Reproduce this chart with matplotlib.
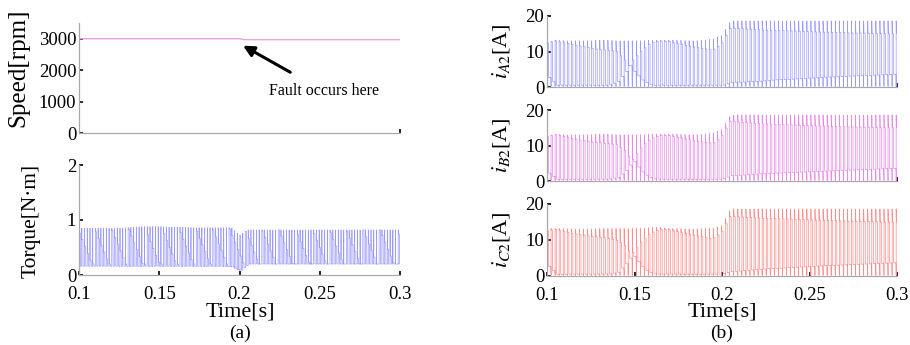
import numpy as np
import matplotlib
matplotlib.use('Agg')
import matplotlib.pyplot as plt

plt.rcParams['font.family'] = ['Liberation Serif', 'DejaVu Serif']
plt.rcParams['mathtext.fontset'] = 'stix'
plt.rcParams['path.simplify'] = False

# ---------------- data ----------------
t_knots = [0.100, 0.105, 0.110, 0.115, 0.120, 0.125, 0.130, 0.135, 0.140, 0.145,
           0.150, 0.155, 0.160, 0.165, 0.170, 0.175, 0.180, 0.185, 0.190, 0.195,
           0.200, 0.205, 0.210, 0.215, 0.220, 0.225, 0.230, 0.235, 0.240, 0.245,
           0.250, 0.255, 0.260, 0.265, 0.270, 0.275, 0.280, 0.285, 0.290, 0.295, 0.300]

speed_t = [0.100, 0.200, 0.203, 0.300]
speed_v = [3000, 3000, 2970, 2970]

torque_top = [0.85, 0.85, 0.85, 0.85, 0.85, 0.85, 0.86, 0.87, 0.88, 0.88,
              0.88, 0.87, 0.87, 0.87, 0.86, 0.86, 0.86, 0.86, 0.86, 0.86,
              0.72, 0.82, 0.82, 0.82, 0.82, 0.82, 0.82, 0.82, 0.82, 0.82,
              0.82, 0.82, 0.82, 0.82, 0.82, 0.82, 0.82, 0.82, 0.82, 0.82, 0.82]
torque_bot = [0.16, 0.16, 0.16, 0.16, 0.16, 0.16, 0.16, 0.16, 0.16, 0.16,
              0.16, 0.16, 0.16, 0.16, 0.16, 0.16, 0.16, 0.16, 0.16, 0.15,
              0.08, 0.20, 0.20, 0.20, 0.20, 0.20, 0.20, 0.20, 0.20, 0.20,
              0.20, 0.20, 0.20, 0.20, 0.20, 0.20, 0.20, 0.20, 0.20, 0.20, 0.20]
torque_ramp_start = [0.0995, 0.1100, 0.1205, 0.1310, 0.1415, 0.1520, 0.1625, 0.1730,
                     0.1835, 0.1940, 0.2035, 0.2140, 0.2245, 0.2350, 0.2455, 0.2560,
                     0.2665, 0.2770, 0.2875, 0.2980]
torque_ramp_hi = 0.84
torque_ramp_lo = 0.20
torque_ramp_len = 0.0088

iA2_peak = [12.5, 13.2, 13.0, 13.0, 13.0, 13.0, 13.2, 13.2, 13.0, 13.0,
            13.0, 13.0, 13.2, 13.2, 13.2, 13.2, 13.0, 13.0, 13.2, 13.5,
            14.5, 18.6, 18.6, 18.6, 18.6, 18.6, 18.6, 18.6, 18.6, 18.6,
            18.6, 18.6, 18.6, 18.6, 18.6, 18.6, 18.6, 18.6, 18.6, 18.6, 18.6]
iA2_tr1 = [12.3, 13.0, 12.5, 12.0, 11.5, 11.0, 10.5, 10.4, 10.0, 7.5,
           4.0, 1.5, 0.5, 0.5, 0.5, 0.5, 0.5, 0.5, 0.5, 0.5,
           0.5, 1.2, 1.3, 1.5, 1.6, 1.8, 2.0, 2.1, 2.2, 2.4,
           2.5, 2.6, 2.8, 2.9, 3.0, 3.1, 3.2, 3.3, 3.4, 3.5, 3.6]
iA2_tr2 = [3.0, 0.5, 0.5, 0.5, 0.5, 0.5, 0.5, 0.5, 1.5, 4.5,
           8.0, 10.5, 12.5, 13.0, 12.8, 12.2, 11.7, 11.2, 10.8, 10.4,
           12.0, 16.5, 16.5, 16.3, 16.2, 16.0, 16.0, 15.9, 15.8, 15.7,
           15.6, 15.5, 15.5, 15.4, 15.3, 15.2, 15.2, 15.1, 15.0, 15.0, 15.0]

iB2_peak = [12.8, 13.2, 13.0, 13.0, 13.0, 13.0, 13.2, 13.2, 13.0, 13.0,
            13.0, 13.0, 13.2, 13.2, 13.2, 13.2, 13.0, 13.0, 13.2, 13.5,
            14.5, 18.6, 18.6, 18.6, 18.6, 18.6, 18.6, 18.6, 18.6, 18.6,
            18.6, 18.6, 18.6, 18.6, 18.6, 18.6, 18.6, 18.6, 18.6, 18.6, 18.6]
iB2_tr1 = [12.5, 13.0, 12.6, 12.0, 11.5, 11.0, 10.8, 10.5, 10.3, 8.5,
           5.0, 2.0, 0.6, 0.5, 0.5, 0.5, 0.5, 0.5, 0.5, 0.5,
           0.6, 1.5, 1.6, 1.8, 2.0, 2.1, 2.2, 2.3, 2.4, 2.5,
           2.6, 2.7, 2.8, 2.9, 3.0, 3.1, 3.2, 3.3, 3.4, 3.5, 3.6]
iB2_tr2 = [2.5, 0.5, 0.5, 0.5, 0.5, 0.5, 0.5, 0.5, 1.0, 3.0,
           6.5, 10.0, 12.0, 12.8, 12.8, 12.3, 11.8, 11.3, 11.0, 10.6,
           12.5, 16.8, 16.6, 16.4, 16.2, 16.1, 16.0, 15.9, 15.8, 15.7,
           15.6, 15.5, 15.5, 15.4, 15.3, 15.2, 15.2, 15.1, 15.0, 15.0, 15.0]

iC2_peak = [13.2, 13.2, 13.2, 13.0, 13.0, 13.0, 13.2, 13.2, 13.2, 13.2,
            13.2, 13.2, 13.5, 13.5, 13.2, 13.2, 13.0, 13.0, 13.2, 13.2,
            14.0, 18.6, 18.6, 18.6, 18.6, 18.6, 18.6, 18.6, 18.6, 18.6,
            18.6, 18.6, 18.6, 18.6, 18.6, 18.6, 18.6, 18.6, 18.6, 18.6, 18.6]
iC2_tr1 = [12.5, 13.0, 12.4, 11.8, 11.5, 11.0, 10.8, 10.5, 10.0, 8.5,
           5.0, 2.0, 0.6, 0.5, 0.5, 0.5, 0.5, 0.5, 0.5, 0.5,
           0.6, 1.2, 1.4, 1.6, 1.8, 2.0, 2.1, 2.2, 2.4, 2.5,
           2.6, 2.8, 2.9, 3.0, 3.1, 3.2, 3.3, 3.4, 3.5, 3.6, 3.7]
iC2_tr2 = [3.0, 0.5, 0.5, 0.5, 0.5, 0.5, 0.5, 0.5, 1.0, 3.5,
           7.0, 10.0, 12.0, 13.0, 12.8, 12.3, 11.8, 11.3, 10.8, 10.4,
           12.0, 16.5, 16.4, 16.3, 16.2, 16.0, 16.0, 15.9, 15.8, 15.7,
           15.6, 15.5, 15.5, 15.4, 15.3, 15.2, 15.2, 15.1, 15.0, 15.0, 15.0]

time_ticks = [0.1, 0.15, 0.2, 0.25, 0.3]
time_ticklabels = ['0.1', '0.15', '0.2', '0.25', '0.3']

# switching periods (rendering of the chopped waveforms)
P_CUR = 0.00232
P_TQ = 0.00170

# ---------------- helpers ----------------
W, H = 910, 345


def ax_box(l, r, top, bot):
    return [l / W, 1 - bot / H, (r - l) / W, (bot - top) / H]


def chopped_current(peak, tr1, tr2):
    starts = np.arange(t_knots[0], t_knots[-1], P_CUR)
    xs, ys = [], []
    for t in starts:
        pk = np.interp(t, t_knots, peak)
        a = np.interp(t + 0.3 * P_CUR, t_knots, tr1)
        b = np.interp(t + 0.3 * P_CUR, t_knots, tr2)
        hi, lo = max(a, b), min(a, b)
        xs += [t, t, t + 0.06 * P_CUR, t + 0.38 * P_CUR, t + 0.38 * P_CUR,
               t + 0.96 * P_CUR, t + P_CUR]
        ys += [0.15, pk, hi, hi, lo, lo, 0.15]
    return np.array(xs), np.array(ys)


def ramp_value(t):
    idx = np.searchsorted(torque_ramp_start, t, side='right') - 1
    idx = max(idx, 0)
    frac = (t - torque_ramp_start[idx]) / torque_ramp_len
    frac = min(max(frac, 0.0), 1.0)
    return torque_ramp_hi + (torque_ramp_lo - torque_ramp_hi) * frac


def chopped_torque():
    starts = np.arange(t_knots[0], t_knots[-1], P_TQ)
    xs, ys = [], []
    for t in starts:
        top = np.interp(t, t_knots, torque_top)
        bot = np.interp(t, t_knots, torque_bot)
        rv = min(ramp_value(t + 0.3 * P_TQ), top)
        rv = max(rv, bot)
        xs += [t, t, t + 0.06 * P_TQ, t + 0.06 * P_TQ, t + 0.45 * P_TQ, t + 0.5 * P_TQ, t + P_TQ]
        ys += [bot, top, top, rv, rv, bot, bot]
    return np.array(xs), np.array(ys)


def style(ax, yticks, ylim, bottom_labels):
    for s in ['top', 'right']:
        ax.spines[s].set_visible(False)
    for s in ['left', 'bottom']:
        ax.spines[s].set_color('#a8a8a8')
        ax.spines[s].set_linewidth(0.9)
    ax.set_xlim(0.1, 0.3)
    ax.set_ylim(*ylim)
    ax.set_yticks(yticks)
    ax.tick_params(axis='both', direction='in', length=3, width=1.2, color='black',
                   labelsize=13.5, pad=2)
    if bottom_labels:
        ax.set_xticks(time_ticks)
        ax.set_xticklabels(time_ticklabels)
        ax.tick_params(axis='x', pad=8)
    else:
        ax.set_xticks([0.3])
        ax.set_xticklabels([])


fig = plt.figure(figsize=(W / 100, H / 100), dpi=100)

# ---------------- (a) ----------------
ax_sp = fig.add_axes(ax_box(79, 400, 23, 133))
ax_sp.plot(speed_t, speed_v, color='#e6a3e6', lw=1.0)
style(ax_sp, [0, 1000, 2000, 3000], (0, 3500), False)
ax_sp.annotate('Fault occurs here', xy=(0.2022, 2780), xytext=(0.2526, 1330),
               ha='center', va='center', fontsize=11.5,
               arrowprops=dict(arrowstyle='-|>', lw=2.2, color='black',
                               mutation_scale=16, shrinkA=12, shrinkB=0))

ax_tq = fig.add_axes(ax_box(79, 400, 165, 275))
xt, yt = chopped_torque()
ax_tq.plot(xt, yt, color='#9a9aff', lw=0.5, snap=False)
style(ax_tq, [0, 1, 2], (0, 2), True)

fig.text(18 / W, 1 - 68 / H, 'Speed[rpm]', rotation=90, ha='center', va='center', fontsize=18)
fig.text(31 / W, 1 - 221 / H, 'Torque[N·m]', rotation=90, ha='center', va='center', fontsize=15.5)
fig.text(240 / W, 1 - 312 / H, 'Time[s]', ha='center', va='center', fontsize=16)
fig.text(240 / W, 1 - 333 / H, '(a)', ha='center', va='center', fontsize=14)

# ---------------- (b) ----------------
cur_specs = [
    (16, 87, iA2_peak, iA2_tr1, iA2_tr2, '#9a9aff', r'$i_{A2}$[A]', False),
    (110, 181, iB2_peak, iB2_tr1, iB2_tr2, '#e68ae6', r'$i_{B2}$[A]', False),
    (204, 276, iC2_peak, iC2_tr1, iC2_tr2, '#ff8c8c', r'$i_{C2}$[A]', True),
]
for top, bot, pk, a, b, col, lab, lbl in cur_specs:
    ax = fig.add_axes(ax_box(547, 897, top, bot))
    xs, ys = chopped_current(pk, a, b)
    ax.plot(xs, ys, color=col, lw=0.5, snap=False)
    style(ax, [0, 10, 20], (0, 20), lbl)
    fig.text(501 / W, 1 - ((top + bot) / 2) / H, lab, rotation=90, ha='center',
             va='center', fontsize=16)

fig.text(722 / W, 1 - 312 / H, 'Time[s]', ha='center', va='center', fontsize=16)
fig.text(722 / W, 1 - 333 / H, '(b)', ha='center', va='center', fontsize=14)

fig.savefig('out.png', dpi=100)
